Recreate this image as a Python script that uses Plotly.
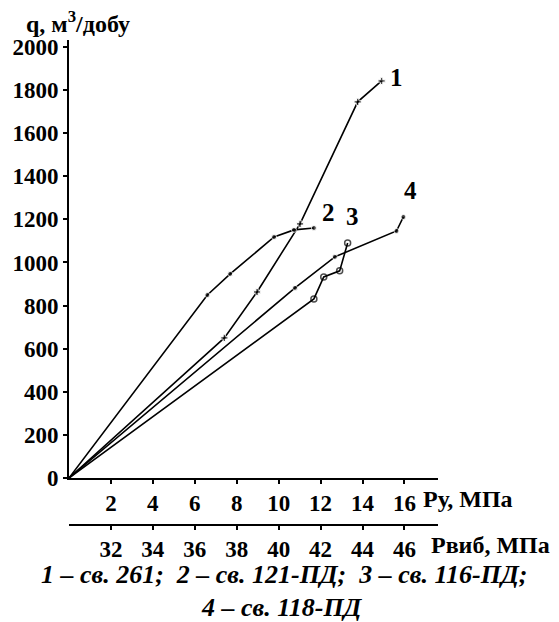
import plotly.graph_objects as go

# ---- data ----
py_1 = [0, 7.41, 8.97, 11.02, 13.77, 14.91]
q_1 = [0, 650, 863, 1179, 1745, 1842]

py_2 = [0, 6.60, 7.69, 9.78, 10.73, 11.68]
q_2 = [0, 849, 947, 1118, 1151, 1160]

py_3 = [0, 11.68, 12.15, 12.91, 13.29]
q_3 = [0, 831, 933, 961, 1090]

py_4 = [0, 10.78, 12.68, 15.62, 15.95]
q_4 = [0, 882, 1026, 1146, 1211]

curve_labels = ["1", "2", "3", "4"]
label_x = [15.6, 12.4, 13.5, 16.3]
label_y = [1856, 1230, 1211, 1336]

pu_ticks = [2, 4, 6, 8, 10, 12, 14, 16]
pvib_offset = 30  # Рвиб = Ру + 30
pvib_ticks = [32, 34, 36, 38, 40, 42, 44, 46]
q_ticks = [0, 200, 400, 600, 800, 1000, 1200, 1400, 1600, 1800, 2000]

legend_line1 = "1 – св. 261;  2 – св. 121-ПД;  3 – св. 116-ПД;"
legend_line2 = "4 – св. 118-ПД"

# ---- layout geometry ----
W, H = 559, 622
L, R, T, B = 69, 121, 40, 97
PW, PH = W - L - R, H - T - B
x_max = 17.6
y_max = 2032
y_dom0 = ((H - B) - 478) / PH


def px(xp, yp):
    return (xp - L) / PW, ((H - B) - yp) / PH


FONT = "Liberation Serif"
fig = go.Figure()

styles = [
    dict(symbol="cross", size=6, color="black"),
    dict(symbol="circle", size=5, color="black"),
    dict(symbol="circle-open", size=6, color="black", line=dict(width=1.5, color="black")),
    dict(symbol="circle", size=5, color="black"),
]
for (xs, ys), st in zip([(py_1, q_1), (py_2, q_2), (py_3, q_3), (py_4, q_4)], styles):
    sizes = [0] + [st["size"]] * (len(xs) - 1)
    m = dict(st)
    m["size"] = sizes
    fig.add_trace(go.Scatter(x=xs, y=ys, mode="lines+markers",
                             line=dict(color="black", width=1.6),
                             marker=m, showlegend=False, cliponaxis=False))

# invisible trace carrying the second x axis
fig.add_trace(go.Scatter(x=[pvib_ticks[0]], y=[0], xaxis="x2", yaxis="y",
                         mode="markers", marker=dict(opacity=0), showlegend=False,
                         hoverinfo="skip"))

tickfont = dict(family=FONT, size=23, color="black", weight="bold")

fig.update_layout(
    width=W, height=H,
    margin=dict(l=L, r=R, t=T, b=B, pad=0),
    paper_bgcolor="white", plot_bgcolor="white",
    xaxis=dict(range=[0, x_max], tickvals=pu_ticks, ticks="outside", ticklen=4,
               tickwidth=1.5, tickcolor="black", showline=True, linecolor="black",
               linewidth=1.6, showgrid=False, zeroline=False, tickfont=tickfont,
               anchor="y"),
    xaxis2=dict(range=[pvib_offset, pvib_offset + x_max], tickvals=pvib_ticks,
                overlaying="x", anchor="free", position=0, side="bottom",
                ticks="outside", ticklen=4, tickwidth=1.5, tickcolor="black",
                showline=True, linecolor="black", linewidth=1.6, showgrid=False,
                zeroline=False, tickfont=tickfont),
    yaxis=dict(range=[0, y_max], domain=[y_dom0, 1], tickvals=q_ticks,
               ticks="outside", ticklen=4, tickwidth=1.5, tickcolor="black",
               showline=True, linecolor="black", linewidth=1.6, showgrid=False,
               zeroline=False, tickfont=tickfont),
)

ann = []
for t, xv, yv in zip(curve_labels, label_x, label_y):
    ann.append(dict(x=xv, y=yv, xref="x", yref="y", text=t, showarrow=False,
                    font=dict(family=FONT, size=25, color="black", weight="bold")))

bold = dict(family=FONT, size=24, color="black", weight="bold")
x0, y0 = px(24, 22)
ann.append(dict(x=x0, y=y0, xref="paper", yref="paper", xanchor="left", yanchor="middle",
                text="q, м<sup>3</sup>/добу", showarrow=False, font=bold))
x0, y0 = px(421, 499)
ann.append(dict(x=x0, y=y0, xref="paper", yref="paper", xanchor="left", yanchor="middle",
                text="Ру, МПа", showarrow=False, font=bold))
x0, y0 = px(429, 545)
ann.append(dict(x=x0, y=y0, xref="paper", yref="paper", xanchor="left", yanchor="middle",
                text="Рвиб, МПа", showarrow=False, font=bold))
ital = dict(family=FONT, size=26, color="black", weight="bold", style="italic")
x0, y0 = px(284, 574)
ann.append(dict(x=x0, y=y0, xref="paper", yref="paper", xanchor="center", yanchor="middle",
                text=legend_line1, showarrow=False, font=ital))
x0, y0 = px(282, 607)
ann.append(dict(x=x0, y=y0, xref="paper", yref="paper", xanchor="center", yanchor="middle",
                text=legend_line2, showarrow=False, font=ital))

fig.update_layout(annotations=ann)
fig.write_html("out.html", config={"displayModeBar": False},
               post_script="document.body.style.margin='0';")
